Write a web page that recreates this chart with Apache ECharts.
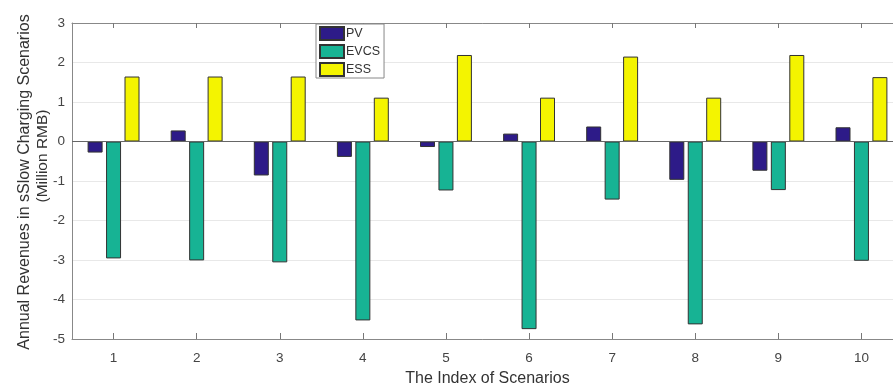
<!DOCTYPE html>
<html>
<head>
<meta charset="utf-8">
<script src="https://cdn.jsdelivr.net/npm/echarts@6/dist/echarts.min.js"></script>
<style>html,body{margin:0;padding:0;background:#fff}#c{width:893px;height:389px}</style>
</head>
<body>
<div id="c"></div>
<script>
const categories = ['1','2','3','4','5','6','7','8','9','10'];
const pvValues   = [-0.28, 0.28, -0.86, -0.39, -0.14, 0.20, 0.38, -0.97, -0.74, 0.36];
const evcsValues = [-2.96, -3.01, -3.06, -4.53, -1.24, -4.75, -1.47, -4.63, -1.23, -3.02];
const essValues  = [1.645, 1.645, 1.645, 1.11, 2.19, 1.11, 2.15, 1.11, 2.19, 1.63];
const yTicks = { min: -5, max: 3, interval: 1 };
const seriesNames = ['PV','EVCS','ESS'];
const yTitle1 = 'Annual Revenues in sSlow Charging Scenarios';
const yTitle2 = '(Million RMB)';
const xTitle = 'The Index of Scenarios';

const chart = echarts.init(document.getElementById('c'), null, {renderer:'canvas'});
const font = 'Liberation Sans, Arial, Helvetica, sans-serif';
const colors = ['#2d1b88', '#17b394', '#f4f400'];
function mk(name, data, i) {
  const s = {
    name: name, type: 'bar', data: data,
    barWidth: 15, barGap: '23%',
    itemStyle: { color: colors[i], borderColor: '#333', borderWidth: 1 },
    silent: true
  };
  if (i === 0) {
    s.markLine = { silent: true, symbol: 'none', label: {show:false},
      lineStyle: { color: '#666', width: 1, type: 'solid' },
      data: [{ yAxis: 0 }], z: 10 };
  }
  return s;
}
chart.setOption({
  animation: false,
  textStyle: { fontFamily: font },
  grid: { left: 72, right: -10, top: 23, bottom: 50, containLabel: false, outerBoundsMode: 'none' },
  legend: {
    orient: 'vertical', left: 316, top: 24,
    icon: 'rect',
    itemWidth: 24, itemHeight: 13, itemGap: 3,
    padding: [2, 4, 1, 3],
    backgroundColor: '#fff',
    borderColor: '#888', borderWidth: 1,
    textStyle: { fontSize: 12.5, color: '#333', lineHeight: 13, padding: [0,0,0,-3], fontFamily: font },
    data: seriesNames
  },
  xAxis: [{
    type: 'category', data: categories, position: 'bottom',
    axisLine: { show: true, onZero: false, lineStyle: { color: '#888', width: 1 } },
    axisTick: { show: true, inside: true, alignWithLabel: true, length: 6, lineStyle: { color: '#777' } },
    axisLabel: { color: '#444', fontSize: 13.5, margin: 12, fontFamily: font },
    splitLine: { show: false },
    name: xTitle, nameLocation: 'middle', nameGap: 32,
    nameTextStyle: { color: '#333', fontSize: 16, fontFamily: font }
  }, {
    type: 'category', data: categories, position: 'top',
    axisLine: { show: true, onZero: false, lineStyle: { color: '#888', width: 1 } },
    axisTick: { show: true, inside: true, alignWithLabel: true, length: 5, lineStyle: { color: '#777' } },
    axisLabel: { show: false }
  }],
  yAxis: {
    type: 'value', min: yTicks.min, max: yTicks.max, interval: yTicks.interval,
    axisLine: { show: true, lineStyle: { color: '#888', width: 1 } },
    axisTick: { show: false },
    axisLabel: { color: '#444', fontSize: 13.5, margin: 7, fontFamily: font },
    splitLine: { show: true, lineStyle: { color: '#e8e8e8', width: 1 } }
  },
  graphic: [
    { type: 'text', rotation: Math.PI/2, x: 24.5, y: 182,
      style: { text: yTitle1, fill: '#333', font: '16px ' + font, textAlign: 'center', textVerticalAlign: 'middle' } },
    { type: 'text', rotation: Math.PI/2, x: 43, y: 156,
      style: { text: yTitle2, fill: '#333', font: '15.5px ' + font, textAlign: 'center', textVerticalAlign: 'middle' } }
  ],
  series: [mk(seriesNames[0], pvValues, 0), mk(seriesNames[1], evcsValues, 1), mk(seriesNames[2], essValues, 2)]
});
</script>
</body>
</html>
